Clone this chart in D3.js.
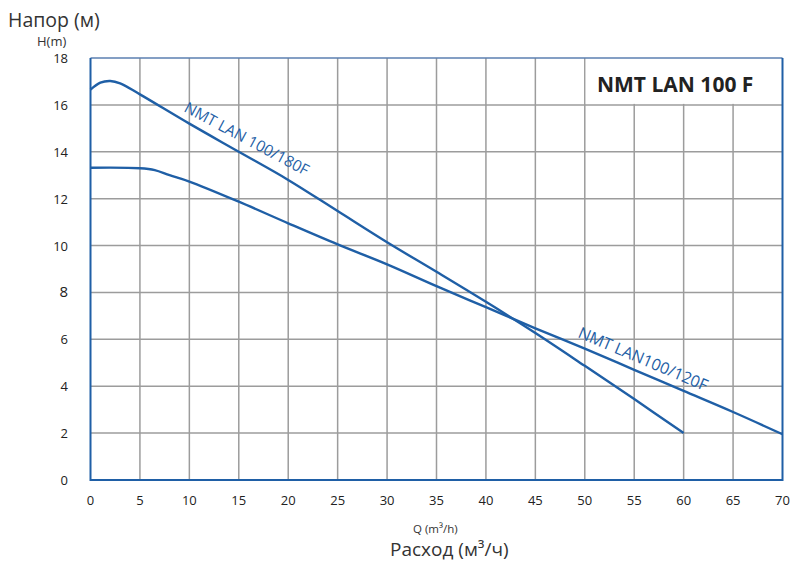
<!DOCTYPE html>
<html><head><meta charset="utf-8">
<script src="https://cdn.jsdelivr.net/npm/d3@7/dist/d3.min.js"></script>
<style>body{margin:0;background:#fff}svg{display:block}text{font-family:"Open Sans","Noto Sans",sans-serif}</style>
</head><body><svg id="c" width="794" height="561"></svg>
<script>
const xTicks = [0,5,10,15,20,25,30,35,40,45,50,55,60,65,70];
const yTicks = [0,2,4,6,8,10,12,14,16,18];
const q180 = [0,1,2,3,5,10,15,20,25,30,35,40,45,50,55,60];
const h180 = [16.65,16.95,17.02,16.92,16.45,15.2,14.0,12.8,11.47,10.14,8.88,7.6,6.27,4.87,3.45,2.0];
const q120 = [0,5,6.5,8,10,15,20,25,30,35,40,45,50,55,60,65,70];
const h120 = [13.32,13.3,13.22,13.0,12.73,11.87,10.95,10.05,9.2,8.27,7.37,6.47,5.6,4.7,3.8,2.9,1.95];
const seriesLabels = ["NMT LAN 100/180F","NMT LAN100/120F"];
const title = "NMT LAN 100 F";

const svg = d3.select("#c");
const L=90.5,R=782.5,T=58,B=480;
const x = d3.scaleLinear().domain([0,70]).range([L,R]);
const y = d3.scaleLinear().domain([0,18]).range([B,T]);
const blue="#1f5fa6", grid="#9c9c9c";

// grid
svg.append("g").selectAll("line").data(xTicks.slice(1,-1)).join("line")
  .attr("x1",d=>x(d)).attr("x2",d=>x(d)).attr("y1",T).attr("y2",B)
  .attr("stroke",grid).attr("stroke-width",1.5);
svg.append("g").selectAll("line").data(yTicks.slice(1,-1)).join("line")
  .attr("y1",d=>y(d)).attr("y2",d=>y(d)).attr("x1",L).attr("x2",R)
  .attr("stroke",grid).attr("stroke-width",1.5);

// title box
svg.append("rect").attr("x",x(50)+1).attr("y",T).attr("width",R-x(50)-1).attr("height",y(16)-T-1).attr("fill","#fff");
svg.append("text").attr("x",597).attr("y",91.5).attr("font-size",21).attr("font-weight","bold")
  .attr("fill","#222").text(title);

// frame
svg.append("line").attr("x1",L).attr("x2",R).attr("y1",T).attr("y2",T).attr("stroke","#5b7fb0").attr("stroke-width",1.5);
svg.append("path").attr("d",`M${L},${T}V${B}H${R}V${T}`).attr("fill","none").attr("stroke",blue).attr("stroke-width",2);

// curves
const line = d3.line().x(d=>x(d[0])).y(d=>y(d[1])).curve(d3.curveCatmullRom.alpha(0.5));
svg.append("path").datum(q180.map((q,i)=>[q,h180[i]])).attr("d",line)
  .attr("fill","none").attr("stroke",blue).attr("stroke-width",2.4);
svg.append("path").datum(q120.map((q,i)=>[q,h120[i]])).attr("d",line)
  .attr("fill","none").attr("stroke",blue).attr("stroke-width",2.4);

// series labels
svg.append("text").attr("transform","translate(183,111) rotate(28)").attr("font-size",15.5)
  .attr("fill",blue).text(seriesLabels[0]);
svg.append("text").attr("transform","translate(577,337) rotate(23)").attr("font-size",16)
  .attr("fill",blue).text(seriesLabels[1]);

// tick labels
svg.append("g").selectAll("text").data(yTicks).join("text")
  .attr("x",68).attr("y",d=>y(d)+5).attr("text-anchor","end")
  .attr("font-size",d=>d===8?15:13).attr("fill","#222").text(d=>d);
svg.append("g").selectAll("text").data(xTicks).join("text")
  .attr("x",d=>x(d)).attr("y",505).attr("text-anchor","middle")
  .attr("font-size",13).attr("fill","#222").text(d=>d);

// axis titles
svg.append("text").attr("x",8).attr("y",27).attr("font-size",19.5).attr("fill","#333").text("Напор (м)");
svg.append("text").attr("x",37).attr("y",46).attr("fill","#333").attr("font-size",13).text("H(m)");
svg.append("text").attr("x",413).attr("y",533).attr("fill","#333").attr("font-size",11.5).text("Q (m³/h)");
svg.append("text").attr("x",390).attr("y",556).attr("fill","#333").attr("font-size",19).text("Расход (м³/ч)");
</script></body></html>
